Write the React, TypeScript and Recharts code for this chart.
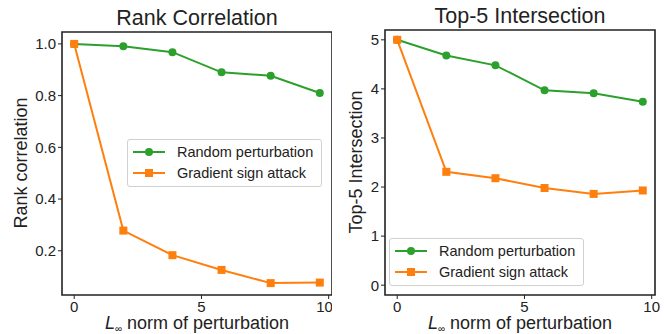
import React from "react";
import { LineChart, Line, XAxis, YAxis, ReferenceArea } from "recharts";

const xs = [0, 1.93, 3.86, 5.79, 7.72, 9.65];
const rankRandom = [1.0, 0.991, 0.968, 0.89, 0.877, 0.81];
const rankGradient = [1.0, 0.278, 0.183, 0.126, 0.075, 0.077];
const topRandom = [5.0, 4.68, 4.48, 3.97, 3.91, 3.74];
const topGradient = [5.0, 2.31, 2.18, 1.98, 1.86, 1.93];
const xTicks = [0, 5, 10];
const rankTicks = [0.2, 0.4, 0.6, 0.8, 1.0];
const topTicks = [0, 1, 2, 3, 4, 5];
const seriesNames = ["Random perturbation", "Gradient sign attack"];

const GREEN = "#2ca02c";
const ORANGE = "#ff7f0e";
const FONT = "'Liberation Sans', Arial, sans-serif";
const X_DOMAIN = [-0.48, 10.13];

const rankData = xs.map((x, i) => ({ x, random: rankRandom[i], gradient: rankGradient[i] }));
const topData = xs.map((x, i) => ({ x, random: topRandom[i], gradient: topGradient[i] }));

const SquareDot = (p: any) => (
  <rect key={`sq-${p.index}`} x={p.cx - 4} y={p.cy - 4} width={8} height={8} fill={ORANGE} />
);
const CircleDot = (p: any) => (
  <circle key={`c-${p.index}`} cx={p.cx} cy={p.cy} r={4} fill={GREEN} />
);

// matplotlib style legend box
const LegendBox = ({ left, top }: { left: number; top: number }) => (
  <div
    style={{
      position: "absolute",
      left,
      top,
      border: "1px solid #d0d0d0",
      borderRadius: 3,
      background: "rgba(255,255,255,0.8)",
      padding: "1px 8px 3px 5px",
      fontFamily: FONT,
      fontSize: 14.5,
      color: "#222",
    }}
  >
    {seriesNames.map((name, i) => {
      const color = i === 0 ? GREEN : ORANGE;
      return (
        <div key={name} style={{ display: "flex", alignItems: "center", height: 21, whiteSpace: "nowrap" }}>
          <svg width={32} height={10} style={{ marginRight: 12 }}>
            <line x1={0} y1={5} x2={32} y2={5} stroke={color} strokeWidth={2} />
            {i === 1 ? (
              <rect x={12} y={1} width={8} height={8} fill={color} />
            ) : (
              <circle cx={16} cy={5} r={4} fill={color} />
            )}
          </svg>
          <span>{name}</span>
        </div>
      );
    })}
  </div>
);

const tickStyle = { fontSize: 15, fill: "#222", fontFamily: FONT };

const Panel = ({ data, yDomain, yTicks, fmt, yWidth, right, top }: any) => (
  <LineChart width={332} height={334} data={data} margin={{ top, right, bottom: 9, left: 0 }}>
    <XAxis
      dataKey="x"
      type="number"
      domain={X_DOMAIN}
      ticks={xTicks}
      allowDataOverflow
      axisLine={false}
      tickLine={{ stroke: "#222" }}
      tickSize={4}
      tick={tickStyle}
      height={30}
    />
    <YAxis
      type="number"
      domain={yDomain}
      ticks={yTicks}
      allowDataOverflow
      axisLine={false}
      tickLine={{ stroke: "#222" }}
      tickSize={4}
      tick={tickStyle}
      tickFormatter={fmt}
      width={yWidth}
    />
    <ReferenceArea
      x1={X_DOMAIN[0]}
      x2={X_DOMAIN[1]}
      y1={yDomain[0]}
      y2={yDomain[1]}
      fill="none"
      stroke="#222"
      strokeWidth={1.6}
      ifOverflow="visible"
    />
    <Line dataKey="random" stroke={GREEN} strokeWidth={2} dot={CircleDot} isAnimationActive={false} />
    <Line dataKey="gradient" stroke={ORANGE} strokeWidth={2} dot={SquareDot} isAnimationActive={false} />
  </LineChart>
);

const App = () => {
  const titleStyle: React.CSSProperties = {
    position: "absolute",
    fontFamily: FONT,
    fontSize: 21.5,
    lineHeight: "24px",
    color: "#222",
    whiteSpace: "nowrap",
    transform: "translateX(-50%)",
  };
  const ylabStyle: React.CSSProperties = {
    position: "absolute",
    fontFamily: FONT,
    fontSize: 18,
    lineHeight: "20px",
    color: "#222",
    whiteSpace: "nowrap",
    transform: "translate(-50%, -50%) rotate(-90deg)",
  };
  const xlabStyle: React.CSSProperties = {
    ...titleStyle,
    fontSize: 18,
    lineHeight: "20px",
  };
  const xlab = (
    <span>
      <i>L</i>
      <sub style={{ fontSize: 10, verticalAlign: "-3px" }}>∞</sub> norm of perturbation
    </span>
  );
  return (
    <div style={{ position: "absolute", left: 0, top: 0, width: 664, height: 334, background: "#fff" }}>
      <div style={{ position: "absolute", left: 0, top: 0 }}>
        <Panel
          data={rankData}
          yDomain={[0.029, 1.046]}
          yTicks={rankTicks}
          fmt={(v: number) => v.toFixed(1)}
          yWidth={62}
          right={0}
          top={32}
        />
      </div>
      <div style={{ position: "absolute", left: 332, top: 0 }}>
        <Panel
          data={topData}
          yDomain={[-0.2, 5.2]}
          yTicks={topTicks}
          fmt={(v: number) => String(v)}
          yWidth={53}
          right={9}
          top={30}
        />
      </div>
      <LegendBox left={127} top={139} />
      <LegendBox left={389} top={238} />
      <div style={{ ...titleStyle, left: 197, top: 6 }}>Rank Correlation</div>
      <div style={{ ...titleStyle, left: 520, top: 4 }}>Top-5 Intersection</div>
      <div style={{ ...ylabStyle, left: 21, top: 163 }}>Rank correlation</div>
      <div style={{ ...ylabStyle, left: 356, top: 162 }}>Top-5 Intersection</div>
      <div style={{ ...xlabStyle, left: 197, top: 313 }}>{xlab}</div>
      <div style={{ ...xlabStyle, left: 520, top: 313 }}>{xlab}</div>
    </div>
  );
};

export default App;
